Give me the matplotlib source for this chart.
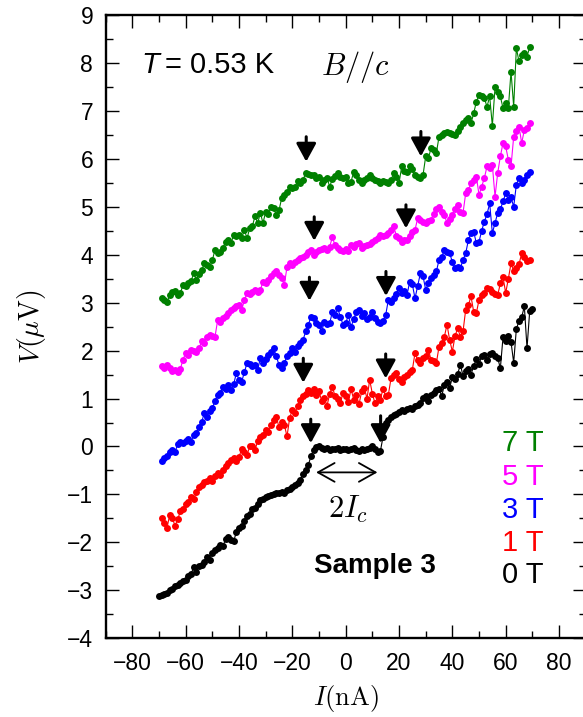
import numpy as np
import matplotlib
matplotlib.use("Agg")
import matplotlib.pyplot as plt
from matplotlib.ticker import MultipleLocator

plt.rcParams['font.family'] = ['Liberation Sans', 'DejaVu Sans']
plt.rcParams['mathtext.fontset'] = 'cm'

# current sweeps (nA)
current_0T = np.arange(-70, 71)
current_B = np.arange(-69, 70)

# voltage (uV)
v_0T = [-3.12, -3.10, -3.08, -3.05, -3.00, -2.97, -2.92, -2.88, -2.85, -2.80,
        -2.78, -2.70, -2.66, -2.52, -2.62, -2.50, -2.48, -2.40, -2.30, -2.36,
        -2.22, -2.15, -2.12, -2.05, -2.08, -1.92, -1.88, -1.95, -1.98, -1.78,
        -1.70, -1.65, -1.55, -1.45, -1.40, -1.30, -1.28, -1.20, -1.12, -1.10,
        -1.06, -1.04, -1.02, -1.00, -0.98, -0.96, -0.94, -0.96, -0.90, -0.88,
        -0.84, -0.80, -0.76, -0.70, -0.58, -0.48, -0.38, -0.20, -0.07, -0.02,
        0.00, -0.03, -0.05, -0.04, -0.08, -0.05, -0.06, -0.04, -0.07, -0.05,
        -0.05, -0.08, -0.06, -0.03, -0.07, -0.10, -0.05, -0.08, -0.06, -0.04,
        0.02, -0.06, -0.12, -0.10, 0.20, 0.48, 0.55, 0.62, 0.65, 0.68,
        0.72, 0.76, 0.74, 0.78, 0.80, 0.79, 0.84, 0.86, 0.90, 1.02,
        1.05, 0.95, 1.08, 1.12, 1.18, 1.20, 1.05, 1.28, 1.35, 1.22,
        1.45, 1.40, 1.52, 1.70, 1.48, 1.58, 1.62, 1.50, 1.68, 1.82,
        1.72, 1.88, 1.90, 1.80, 1.92, 1.96, 1.88, 1.85, 1.63, 2.28,
        2.20, 2.30, 2.18, 1.75, 2.45, 2.62, 2.70, 2.92, 2.05, 2.82,
        2.86]

v_1T = [-1.49, -1.60, -1.70, -1.42, -1.50, -1.65, -1.52, -1.35, -1.30, -1.20,
        -1.15, -1.05, -1.10, -0.95, -0.85, -0.80, -0.75, -0.72, -0.65, -0.72,
        -0.62, -0.55, -0.60, -0.48, -0.40, -0.35, -0.28, -0.25, -0.30, -0.22,
        -0.05, -0.12, -0.18, 0.00, 0.02, -0.08, 0.12, 0.20, 0.25, 0.35,
        0.30, 0.45, 0.55, 0.62, 0.40, 0.52, 0.45, 0.21, 0.60, 0.76,
        0.70, 0.85, 0.97, 1.05, 1.10, 1.18, 1.12, 1.20, 1.08, 1.15,
        0.95, 1.02, 0.85, 1.10, 1.25, 1.05, 1.00, 0.90, 1.12, 1.05,
        0.92, 1.20, 0.98, 1.08, 0.88, 1.15, 1.22, 1.00, 1.39, 1.10,
        0.90, 1.05, 0.98, 1.20, 1.05, 1.08, 1.42, 1.50, 1.53, 1.40,
        1.35, 1.45, 1.49, 1.55, 1.60, 1.95, 1.80, 1.74, 1.85, 1.88,
        2.02, 1.81, 1.78, 1.74, 2.08, 2.15, 2.29, 2.54, 2.22, 1.98,
        2.30, 2.47, 2.29, 2.40, 2.85, 2.95, 3.13, 2.81, 2.78, 3.06,
        3.15, 3.20, 3.30, 3.28, 3.23, 3.18, 3.16, 3.40, 3.54, 3.20,
        3.50, 3.82, 3.65, 3.72, 3.80, 4.03, 3.96, 3.86, 3.89]

v_3T = [-0.31, -0.25, -0.20, -0.11, -0.08, -0.12, 0.05, 0.10, 0.08, 0.12,
        0.15, 0.10, 0.24, 0.28, 0.40, 0.52, 0.69, 0.62, 0.75, 0.80,
        0.95, 1.08, 1.12, 1.25, 1.20, 1.28, 1.18, 1.30, 1.53, 1.39,
        1.35, 1.55, 1.74, 1.72, 1.68, 1.70, 1.60, 1.84, 1.75, 1.82,
        1.90, 1.98, 2.05, 1.88, 1.70, 1.63, 1.75, 1.88, 1.95, 2.05,
        1.98, 2.09, 2.15, 2.22, 2.40, 2.54, 2.71, 2.68, 2.57, 2.54,
        2.40, 2.60, 2.55, 2.57, 2.81, 2.75, 2.88, 2.71, 2.54, 2.57,
        2.74, 2.50, 2.65, 2.81, 2.85, 2.72, 2.78, 2.65, 2.70, 2.81,
        2.68, 2.60, 2.58, 2.62, 2.74, 3.06, 3.02, 3.09, 3.18, 3.30,
        3.20, 3.25, 3.16, 3.44, 3.38, 3.09, 3.35, 3.61, 3.55, 3.27,
        3.40, 3.51, 3.58, 3.65, 3.89, 3.95, 4.10, 4.05, 4.03, 3.85,
        3.72, 3.75, 3.72, 3.89, 4.03, 4.30, 4.45, 4.48, 4.24, 4.27,
        4.50, 4.69, 4.85, 5.07, 4.45, 4.66, 4.87, 4.95, 5.11, 5.28,
        5.15, 5.20, 5.00, 5.46, 5.60, 5.49, 5.55, 5.67, 5.72]

v_5T = [1.67, 1.63, 1.70, 1.63, 1.58, 1.60, 1.56, 1.62, 1.81, 1.95,
        1.90, 2.02, 2.00, 1.98, 2.05, 2.19, 2.15, 2.29, 2.33, 2.30,
        2.29, 2.64, 2.60, 2.68, 2.72, 2.78, 2.85, 2.88, 2.92, 2.95,
        2.85, 3.05, 3.20, 3.18, 3.23, 3.27, 3.22, 3.27, 3.44, 3.40,
        3.48, 3.55, 3.61, 3.65, 3.58, 3.51, 3.37, 3.75, 3.82, 3.79,
        3.85, 3.88, 3.93, 3.95, 3.99, 4.05, 4.10, 4.00, 4.06, 4.10,
        4.12, 4.14, 4.10, 4.17, 4.36, 4.20, 4.14, 4.10, 4.07, 4.12,
        4.07, 4.20, 4.17, 4.22, 4.24, 4.14, 4.18, 4.20, 4.22, 4.27,
        4.30, 4.34, 4.41, 4.38, 4.41, 4.45, 4.52, 4.59, 4.40, 4.34,
        4.27, 4.30, 4.31, 4.40, 4.48, 4.52, 4.76, 4.72, 4.69, 4.66,
        4.70, 4.73, 4.85, 4.95, 5.00, 4.90, 4.83, 4.66, 4.75, 4.83,
        4.95, 5.04, 4.90, 4.87, 5.28, 5.35, 5.49, 5.55, 5.63, 5.25,
        5.42, 5.60, 5.84, 5.80, 5.87, 5.21, 5.70, 6.05, 6.33, 6.26,
        5.98, 5.84, 6.46, 6.57, 6.67, 6.33, 6.60, 6.64, 6.74]

v_7T = [3.09, 3.06, 3.02, 3.15, 3.23, 3.25, 3.15, 3.20, 3.37, 3.35,
        3.41, 3.45, 3.61, 3.48, 3.60, 3.68, 3.82, 3.78, 3.75, 3.89,
        4.10, 4.03, 4.05, 4.15, 4.27, 4.30, 4.24, 4.41, 4.38, 4.41,
        4.34, 4.52, 4.34, 4.55, 4.60, 4.80, 4.66, 4.87, 4.66, 4.90,
        4.85, 5.00, 4.97, 4.83, 4.93, 5.18, 5.25, 5.30, 5.42, 5.40,
        5.42, 5.53, 5.50, 5.56, 5.70, 5.68, 5.66, 5.66, 5.60, 5.63,
        5.49, 5.55, 5.60, 5.42, 5.58, 5.65, 5.70, 5.63, 5.60, 5.63,
        5.49, 5.52, 5.73, 5.66, 5.56, 5.49, 5.56, 5.60, 5.66, 5.60,
        5.55, 5.53, 5.50, 5.53, 5.52, 5.49, 5.56, 5.70, 5.62, 5.49,
        5.84, 5.75, 5.73, 5.84, 5.78, 5.66, 5.62, 5.60, 5.66, 6.05,
        6.01, 6.22, 6.18, 6.12, 6.46, 6.50, 6.53, 6.55, 6.53, 6.52,
        6.50, 6.58, 6.67, 6.75, 6.81, 6.85, 6.74, 6.95, 7.19, 7.33,
        7.30, 7.26, 7.09, 7.30, 6.69, 7.49, 7.40, 7.30, 7.06, 7.16,
        7.06, 7.82, 7.09, 8.31, 8.03, 8.17, 8.20, 8.13, 8.33]

field_labels = ['7 T', '5 T', '3 T', '1 T', '0 T']
field_colors = ['#008000', '#ff00ff', '#0000ff', '#ff0000', '#000000']
label_V = [0.07, -0.63, -1.32, -2.02, -2.68]

# arrows marking the critical currents (x, start, tip)
arrow_I = [-14.8, 28.2, -11.8, 22.6, -13.6, 15.1, -15.9, 15.0, -13.1, 13.1]
arrow_top = [6.46, 6.57, 4.79, 5.04, 3.53, 3.65, 1.84, 1.93, 0.57, 0.64]
arrow_tip = [5.94, 6.05, 4.29, 4.55, 3.04, 3.14, 1.33, 1.42, 0.07, 0.07]

fig = plt.figure(figsize=(5.83, 7.17), dpi=100)
ax = fig.add_axes([0.1813, 0.1098, 0.8233, 0.8693])

curves = [(current_B, v_7T), (current_B, v_5T), (current_B, v_3T),
          (current_B, v_1T), (current_0T, v_0T)]
for (x, v), c in zip(curves, field_colors):
    ax.plot(x, v, '-o', color=c, lw=0.8, ms=5.0, mew=0)

for x, y0, y1 in zip(arrow_I, arrow_top, arrow_tip):
    ax.annotate('', xy=(x, y1), xytext=(x, y0),
                arrowprops=dict(arrowstyle='-|>,head_length=0.55,head_width=0.3',
                                lw=2.2, color='k', mutation_scale=20,
                                shrinkA=0, shrinkB=0))

# 2Ic double arrow
ax.annotate('', xy=(11.9, -0.54), xytext=(-11.1, -0.54),
            arrowprops=dict(arrowstyle='<->,head_length=0.8,head_width=0.45',
                            lw=1.3, color='k', mutation_scale=15,
                            shrinkA=0, shrinkB=0))
ax.text(0.9, -1.32, r'$2I_c$', fontsize=22, ha='center', va='center')

ax.text(-76.5, 7.96, 'T', style='italic', fontsize=21, ha='left', va='center')
ax.text(-67.6, 7.96, '= 0.53 K', fontsize=21, ha='left', va='center')
ax.text(3.7, 7.91, r'$B//c$', fontsize=22, ha='center', va='center')
ax.text(10.9, -2.50, 'Sample 3', fontsize=20, fontweight='bold',
        ha='center', va='center')

for lab, c, y in zip(field_labels, field_colors, label_V):
    ax.text(58.8, y, lab, color=c, fontsize=21, ha='left', va='center')

ax.set_xlim(-90, 90)
ax.set_ylim(-4, 9)
ax.xaxis.set_major_locator(MultipleLocator(20))
ax.xaxis.set_minor_locator(MultipleLocator(10))
ax.yaxis.set_major_locator(MultipleLocator(1))
ax.yaxis.set_minor_locator(MultipleLocator(0.5))
ax.tick_params(which='both', direction='in', top=True, right=True,
               labelsize=16.5, width=1.0)
ax.tick_params(which='major', length=9.6)
ax.tick_params(which='minor', length=4.8)
ax.tick_params(axis='x', pad=10)
ax.tick_params(axis='y', pad=9)
for s in ax.spines.values():
    s.set_linewidth(1.7)

ax.set_xlabel(r'$I(\mathrm{nA})$', fontsize=19)
ax.set_ylabel(r'$V(\mu\mathrm{V})$', fontsize=20)
ax.xaxis.set_label_coords(0.5, -0.072)
ax.yaxis.set_label_coords(-0.12, 0.5)

fig.savefig('out.png', dpi=100)
